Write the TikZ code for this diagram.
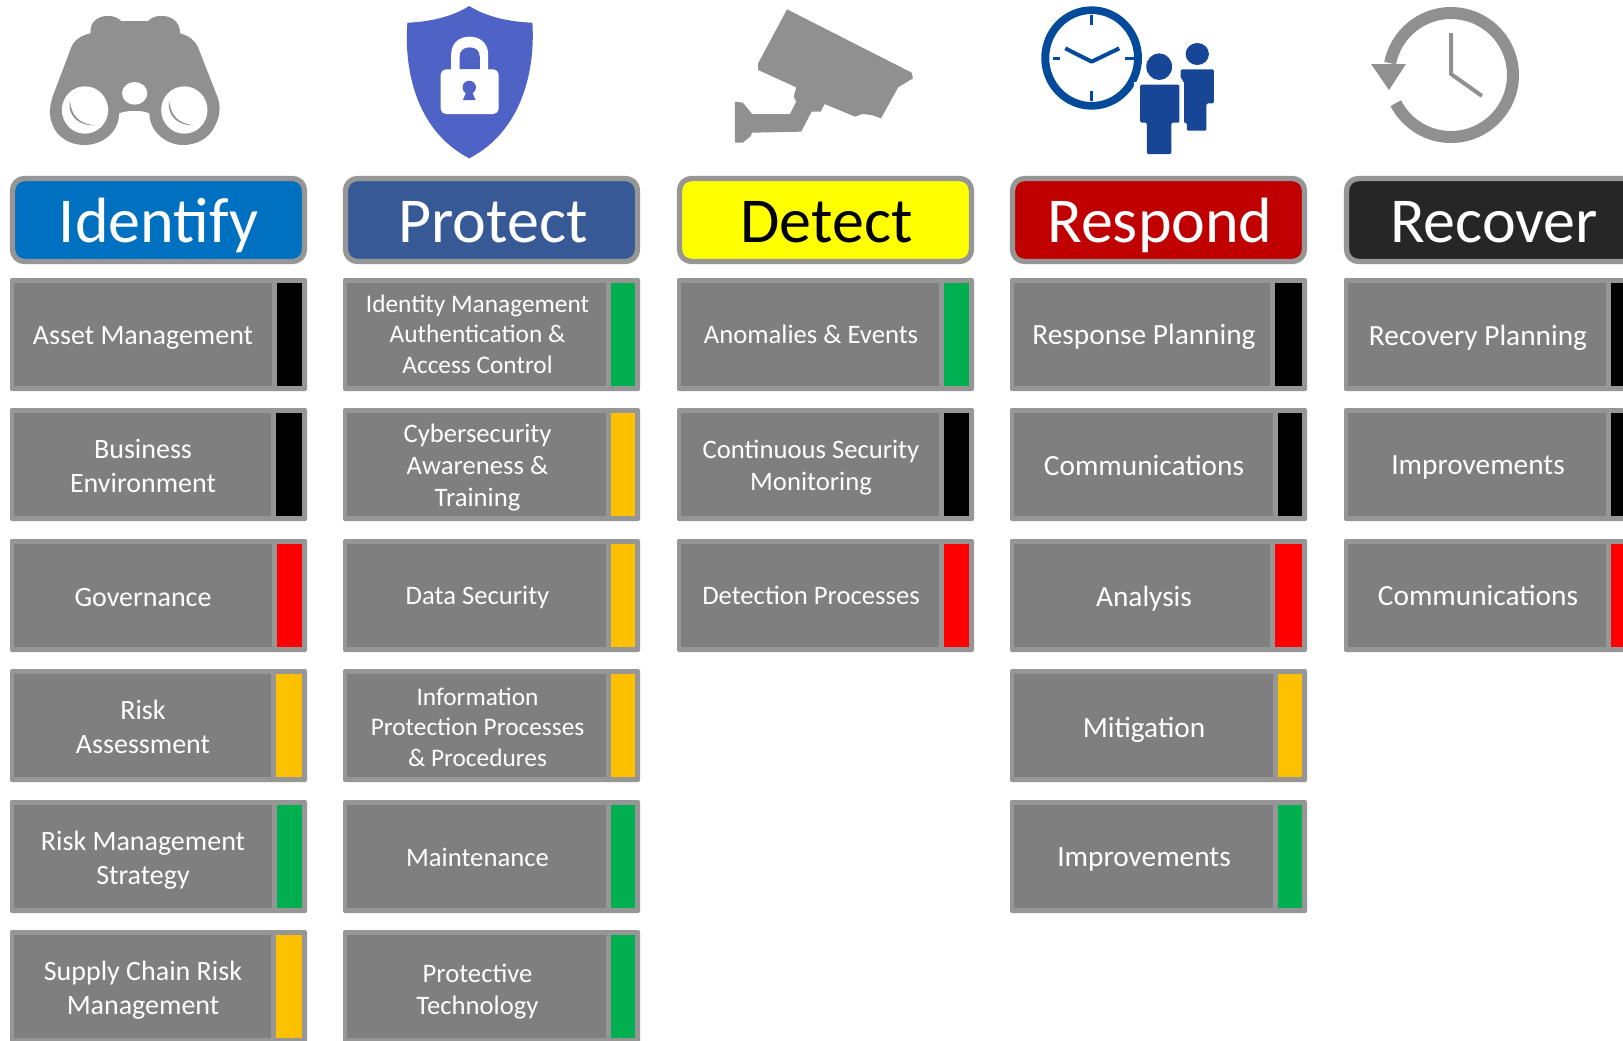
\documentclass[tikz,border=0pt]{standalone}
\usepackage{fontspec}
\setmainfont{Carlito}
\definecolor{edgegray}{HTML}{969696}
\definecolor{cellgray}{HTML}{7F7F7F}
\definecolor{icongray}{HTML}{909090}
\definecolor{okgreen}{HTML}{00B050}
\definecolor{amber}{HTML}{FFC000}
\definecolor{alarm}{HTML}{FF0000}
\definecolor{idblue}{HTML}{0070C0}
\definecolor{prblue}{HTML}{375A97}
\definecolor{dtyellow}{HTML}{FFFF00}
\definecolor{rsred}{HTML}{C00000}
\definecolor{rcblack}{HTML}{262626}
\definecolor{shieldblue}{HTML}{4F63C6}
\definecolor{clockblue}{HTML}{034A9B}
\definecolor{peopleblue}{HTML}{174696}
\newcommand{\szX}{\fontsize{22}{26}\selectfont}
\newcommand{\szL}{\fontsize{21}{25.6}\selectfont}
\newcommand{\szM}{\fontsize{20}{24}\selectfont}
\newcommand{\szS}{\fontsize{19}{23}\selectfont}
\newcommand{\txoff}{133}
\newcommand{\cellrow}[8][0]{%
  \pgfmathsetmacro{\cA}{#3+148.5}\pgfmathsetmacro{\cB}{#4+56.5}%
  \node[cellback, minimum width=297*0.75pt, minimum height=113*0.75pt] (#2b) at (\cA,\cB) {};%
  \pgfmathsetmacro{\cC}{#3+(#5-1)/2}\pgfmathsetmacro{\cW}{#5-9}%
  \node[cellmain, minimum width=\cW*0.75pt, minimum height=103*0.75pt] (#2m) at (\cC,\cB) {};%
  \pgfmathsetmacro{\cD}{#3+(#5+292)/2}\pgfmathsetmacro{\cE}{292-#5}%
  \node[cellbar, fill=#6, minimum width=\cE*0.75pt, minimum height=103*0.75pt] (#2s) at (\cD,\cB) {};%
  \pgfmathsetmacro{\cF}{#3+\txoff}\pgfmathsetmacro{\cG}{\cB+2.5+(#1)}%
  \node[celltext, font=#7] (#2t) at (\cF,\cG) {#8};%
}
\newcommand{\headbox}[6]{%
  \node[headbar, fill=#3, minimum width=292*0.75pt, minimum height=83*0.75pt] (#1) at (#2,220) {};%
  \node[headtext, text=#4] (#1t) at (#5,242) {#6};%
}
\tikzset{
  cellback/.style={fill=edgegray, rounded corners=1.5pt, inner sep=0pt},
  cellmain/.style={fill=cellgray, inner sep=0pt},
  celltext/.style={text=white, align=center, inner sep=0pt},
  cellbar/.style={inner sep=0pt},
  headbar/.style={draw=edgegray, line width=4pt, rounded corners=9pt, inner sep=0pt},
  headtext/.style={anchor=base, inner sep=0pt, font=\fontsize{48}{56}\selectfont},
  px/.style={x=0.75pt,y=-0.75pt},
  zoomA/.style={x=0.75pt/2.376,y=-0.75pt/3},
  zoomB/.style={x=0.75pt/1.628,y=-0.75pt/3},
}
\begin{document}
\begin{tikzpicture}[px]
\useasboundingbox (0,0) rectangle (1623,1040);
\clip (0,0) rectangle (1623,1040);
\fill[white] (0,0) rectangle (1623,1040);

% binoculars
\begin{scope}[zoomA]
\fill[icongray] (215,100) .. controls (212,60) and (240,46) .. (258,48)
  .. controls (272,48) and (282,55) .. (288,63) -- (352,63)
  .. controls (360,52) and (372,47) .. (385,48)
  .. controls (410,48) and (428,68) .. (428,100)
  .. controls (450,108) and (462,120) .. (470,140) -- (518,295)
  .. controls (525,325) and (522,350) .. (510,380)
  .. controls (495,418) and (465,435) .. (435,435)
  .. controls (395,435) and (355,395) .. (355,340)
  .. controls (340,330) and (300,330) .. (283,340)
  .. controls (283,395) and (245,435) .. (200,435)
  .. controls (165,435) and (135,410) .. (125,375)
  .. controls (115,345) and (118,320) .. (125,290) -- (170,140)
  .. controls (178,118) and (195,105) .. (215,100) -- cycle;
\fill[white] (202,330) ellipse [x radius=55, y radius=71];
\fill[white] (438,330) ellipse [x radius=55, y radius=71];
\fill[white] (320,280) ellipse [x radius=30, y radius=34];
\fill[icongray] (166,303) .. controls (170,345) and (185,370) .. (225,376)
  .. controls (190,378) and (160,350) .. (166,303) -- cycle;
\fill[icongray] (402,303) .. controls (406,345) and (421,370) .. (461,376)
  .. controls (426,378) and (396,350) .. (402,303) -- cycle;
% shield
\fill[shieldblue] (1115,18) .. controls (1075,50) and (1020,66) .. (968,68)
  .. controls (960,200) and (985,390) .. (1115,475)
  .. controls (1245,390) and (1272,200) .. (1265,68)
  .. controls (1210,66) and (1155,50) .. (1115,18) -- cycle;
\fill[white] (1072,215) -- (1072,165) .. controls (1072,128) and (1092,110) .. (1116,110)
  .. controls (1140,110) and (1160,128) .. (1160,165) -- (1160,215) -- cycle;
\fill[shieldblue] (1092,208) -- (1092,170) .. controls (1092,152) and (1102,142) .. (1116,142)
  .. controls (1130,142) and (1140,152) .. (1140,170) -- (1140,208) -- cycle;
\fill[white, rounded corners=4pt] (1047,208) rectangle (1185,342);
\fill[shieldblue] (1115,262) ellipse [x radius=16, y radius=20];
\fill[shieldblue] (1110,270) -- (1100,300) -- (1130,300) -- (1120,270) -- cycle;
\end{scope}

% camera, people, clock
\begin{scope}[zoomB, shift={(1074.5,0)}]
\fill[icongray, line join=round] (207,28) -- (410,218) -- (412,235) -- (388,262) -- (360,355)
  -- (345,345) -- (330,342) -- (318,350) -- (268,312) -- (262,335) -- (247,335)
  -- (230,395) -- (150,398) -- (148,408) -- (135,428) -- (122,428) -- (122,305)
  -- (135,308) -- (150,342) -- (212,342) -- (222,305) -- (218,290) -- (222,262)
  -- (160,210) -- (160,190) -- cycle;
\fill[clockblue, even odd rule] (703,174) ellipse [x radius=82, y radius=155]
  (703,174) ellipse [x radius=69, y radius=132];
\draw[clockblue, line width=2.6pt] (703,45) -- (703,76) (703,272) -- (703,302)
  (640,175) -- (652,175) (757,175) -- (775,175);
\draw[clockblue, line width=3pt, line join=round] (660,145) -- (703,185) -- (748,145);
\fill[peopleblue] (875,162) ellipse [x radius=19, y radius=33];
\fill[peopleblue, rounded corners=1pt] (848,208) -- (902,208) -- (902,310) -- (890,310)
  -- (890,392) -- (858,392) -- (858,368) -- (852,368) -- (852,240) -- (848,235) -- cycle;
\fill[white] (772,245) rectangle (853,380);
\fill[peopleblue] (813,200) ellipse [x radius=21, y radius=40];
\fill[peopleblue, rounded corners=1pt] (782,254) -- (846,254) -- (846,368) -- (833,368)
  -- (833,462) -- (793,462) -- (793,368) -- (782,368) -- cycle;
\end{scope}
% recover clock
\begin{scope}
\clip (1370,0) rectangle (1530,143);
\draw[icongray, line width=9pt] plot[domain=169:-153, samples=80]
  ({1451+62*cos(\x)},{75-62*sin(\x)});
\end{scope}
\fill[icongray] (1371,64) -- (1406,64) -- (1389,90) -- cycle;
\draw[icongray, line width=3pt, line join=miter] (1451,33) -- (1451,74) -- (1482,96);

% headers
\headbox{hid}{158.5}{idblue}{white}{158.5}{Identify}
\headbox{hpr}{491.5}{prblue}{white}{493}{Protect}
\headbox{hdt}{825.5}{dtyellow}{black}{826.5}{Detect}
\headbox{hrs}{1158.5}{rsred}{white}{1160}{Respond}
\headbox{hrc}{1492.5}{rcblack}{white}{1494}{Recover}

% Identify
\cellrow[1]{a1}{10}{278}{267}{black}{\szL}{Asset Management}
\cellrow[-1]{a2}{10}{408}{266}{black}{\szL}{Business\\Environment}
\cellrow{a3}{10}{539}{267}{alarm}{\szL}{Governance}
\cellrow[-1]{a4}{10}{669}{266}{amber}{\szL}{Risk\\Assessment}
\cellrow[1]{a5}{10}{800}{267}{okgreen}{\szL}{Risk Management\\Strategy}
\cellrow[1]{a6}{10}{930}{266}{amber}{\szL}{Supply Chain Risk\\Management}
% Protect
\renewcommand{\txoff}{134.5}
\cellrow[-3]{b1}{343}{278}{268}{okgreen}{\szS}{Identity Management\\Authentication \&\\Access Control}
\cellrow[1]{b2}{343}{408}{268}{amber}{\szM}{Cybersecurity\\Awareness \&\\Training}
\cellrow[-1]{b3}{343}{539}{268}{amber}{\szM}{Data Security}
\cellrow[-1]{b4}{343}{669}{268}{amber}{\szS}{Information\\Protection Processes\\\& Procedures}
\cellrow[-2]{b5}{343}{800}{268}{okgreen}{\szM}{Maintenance}
\cellrow[3]{b6}{343}{930}{268}{okgreen}{\szM}{Protective\\Technology}
% Detect
\renewcommand{\txoff}{134}
\cellrow[-2.5]{c1}{677}{278}{267}{okgreen}{\szM}{Anomalies \& Events}
\cellrow[1]{c2}{677}{408}{267}{black}{\szM}{Continuous Security\\Monitoring}
\cellrow[-3]{c3}{677}{539}{267}{alarm}{\szM}{Detection Processes}
% Respond
\cellrow{d1}{1010}{278}{265}{black}{\szX}{Response Planning}
\cellrow[-2]{d2}{1010}{408}{268}{black}{\szX}{Communications}
\cellrow[1]{d3}{1010}{539}{265}{alarm}{\szX}{Analysis}
\cellrow[2]{d4}{1010}{669}{268}{amber}{\szX}{Mitigation}
\cellrow{d5}{1010}{800}{268}{okgreen}{\szX}{Improvements}
% Recover
\cellrow[1]{e1}{1344}{278}{267}{black}{\szX}{Recovery Planning}
\cellrow{e2}{1344}{408}{267}{black}{\szX}{Improvements}
\cellrow[-3]{e3}{1344}{539}{267}{alarm}{\szX}{Communications}
\end{tikzpicture}
\end{document}
